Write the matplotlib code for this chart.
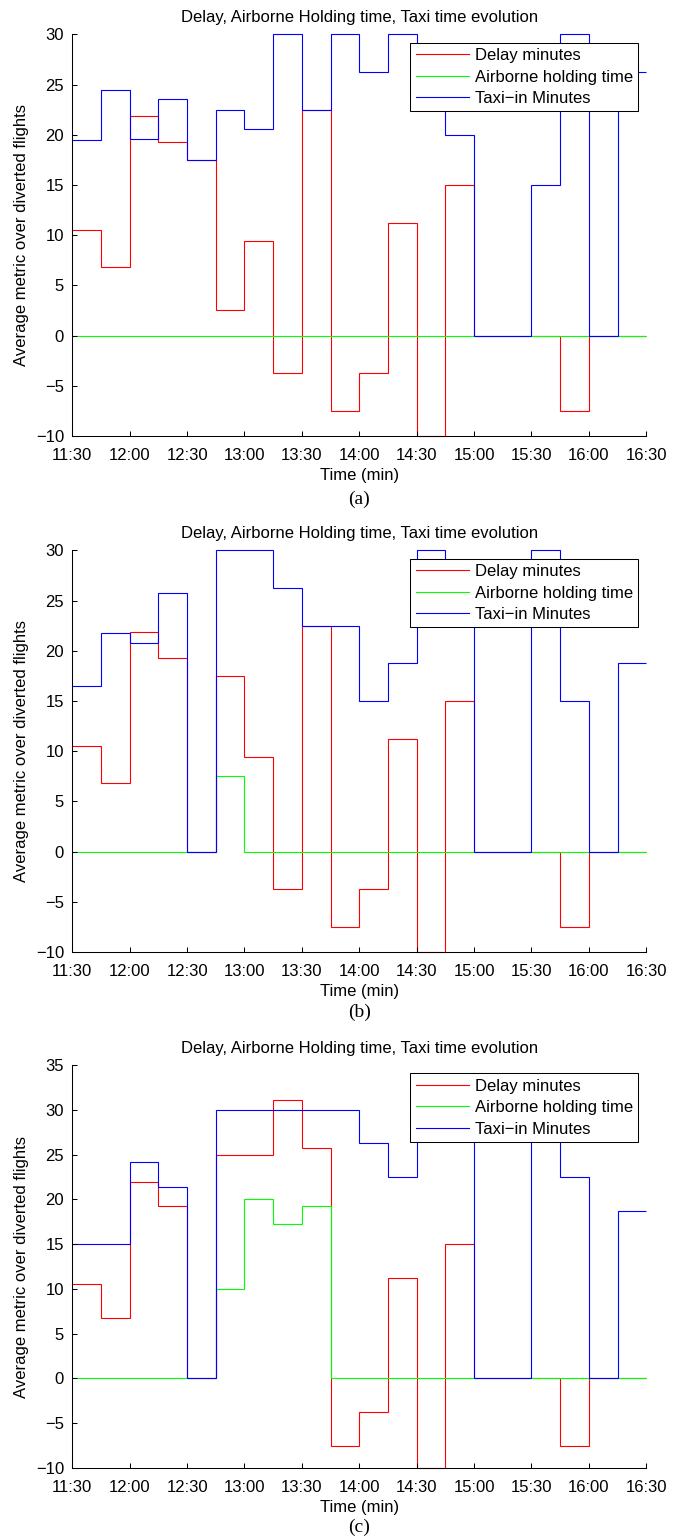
import numpy as np
import matplotlib.pyplot as plt

plt.rcParams['font.family'] = ['Liberation Sans', 'DejaVu Sans']

# 15-minute bins from 11:30 to 16:30 (minutes after midnight)
start_min = 11 * 60 + 30
bin_min = 15
n_bins = 20
edges = start_min + bin_min * np.arange(n_bins + 1)

tick_labels = ['11:30', '12:00', '12:30', '13:00', '13:30', '14:00',
               '14:30', '15:00', '15:30', '16:00', '16:30']

# (a)
delay_a = [10.5, 6.8, 21.9, 19.3, 17.5, 2.5, 9.4, -3.75, 22.5, -7.5,
           -3.75, 11.25, -10, 15, 0, 0, 0, -7.5, 0, 0]
holding_a = [0, 0, 0, 0, 0, 0, 0, 0, 0, 0,
             0, 0, 0, 0, 0, 0, 0, 0, 0, 0]
taxi_a = [19.5, 24.5, 19.6, 23.6, 17.5, 22.5, 20.6, 30, 22.5, 30,
          26.25, 30, 25, 20, 0, 0, 15, 30, 0, 26.25]

# (b)
delay_b = [10.5, 6.8, 21.9, 19.3, 0, 17.5, 9.4, -3.75, 22.5, -7.5,
           -3.75, 11.25, -10, 15, 0, 0, 0, -7.5, 0, 0]
holding_b = [0, 0, 0, 0, 0, 7.5, 0, 0, 0, 0,
             0, 0, 0, 0, 0, 0, 0, 0, 0, 0]
taxi_b = [16.5, 21.8, 20.75, 25.7, 0, 30, 30, 26.25, 22.5, 22.5,
          15, 18.75, 30, 26.25, 0, 0, 30, 15, 0, 18.75]

# (c)
delay_c = [10.5, 6.8, 21.9, 19.3, 0, 25, 25, 31.1, 25.7, -7.5,
           -3.75, 11.25, -10, 15, 0, 0, 0, -7.5, 0, 0]
holding_c = [0, 0, 0, 0, 0, 10, 20, 17.3, 19.3, 0,
             0, 0, 0, 0, 0, 0, 0, 0, 0, 0]
taxi_c = [15, 15, 24.2, 21.4, 0, 30, 30, 30, 30, 30,
          26.25, 22.5, 30, 28, 0, 0, 30, 22.5, 0, 18.75]

panels = [
    (delay_a, holding_a, taxi_a, 30, '(a)'),
    (delay_b, holding_b, taxi_b, 30, '(b)'),
    (delay_c, holding_c, taxi_c, 35, '(c)'),
]

W, H = 684, 1536
fig = plt.figure(figsize=(W / 100, H / 100), dpi=100)

# axes boxes in pixels: left, right, top, bottom
boxes = [(72.3, 646.3, 34.3, 436.0),
         (72.3, 646.3, 550.3, 952.0),
         (72.3, 646.3, 1065.0, 1468.0)]
caption_y = [499, 1012, 1527]
fs = 12

for (delay, holding, taxi, ymax, cap), (l, r, t, b), cy in zip(panels, boxes, caption_y):
    ax = fig.add_axes([l / W, 1 - b / H, (r - l) / W, (b - t) / H])
    lw = 0.8
    ax.stairs(delay, edges, baseline=None, color='#ff0000', lw=lw,
              clip_on=False, label='Delay minutes')
    ax.stairs(holding, edges, baseline=None, color='#00ff00', lw=lw,
              clip_on=False, label='Airborne holding time')
    ax.stairs(taxi, edges, baseline=None, color='#0000ff', lw=lw,
              clip_on=False, label='Taxi\u2212in Minutes')

    ax.set_xlim(edges[0], edges[-1])
    ax.set_ylim(-10, ymax)
    ax.set_xticks(edges[::2])
    ax.set_xticklabels(tick_labels)
    ax.set_yticks(np.arange(-10, ymax + 1, 5))
    ax.tick_params(direction='in', length=3.4, width=0.75, labelsize=fs,
                   top=False, right=False)
    ax.tick_params(axis='x', pad=9)
    ax.tick_params(axis='y', pad=6)
    for side in ['top', 'right']:
        ax.spines[side].set_visible(False)
    for side in ['left', 'bottom']:
        ax.spines[side].set_linewidth(0.75)

    ax.set_title('Delay, Airborne Holding time, Taxi time evolution',
                 fontsize=fs, pad=9)
    ax.set_xlabel('Time (min)', fontsize=fs, labelpad=3.5)
    ax.set_ylabel('Average metric over diverted flights', fontsize=fs)
    ax.yaxis.set_label_coords(-0.075, 0.5)

    leg = ax.legend(loc='upper right', fontsize=fs, fancybox=False,
                    edgecolor='black', framealpha=1,
                    bbox_to_anchor=(1 - 8 / 574, 1 - 8.4 / 401.7),
                    borderaxespad=0, handlelength=3.2, handletextpad=0.34,
                    borderpad=0.33, labelspacing=0.38)
    leg.get_frame().set_linewidth(0.75)

    fig.text(0.5 * (l + r) / W, 1 - cy / H, cap, ha='center', va='center',
             fontsize=14, family=['Liberation Serif'])

fig.savefig('out.png', dpi=100)
